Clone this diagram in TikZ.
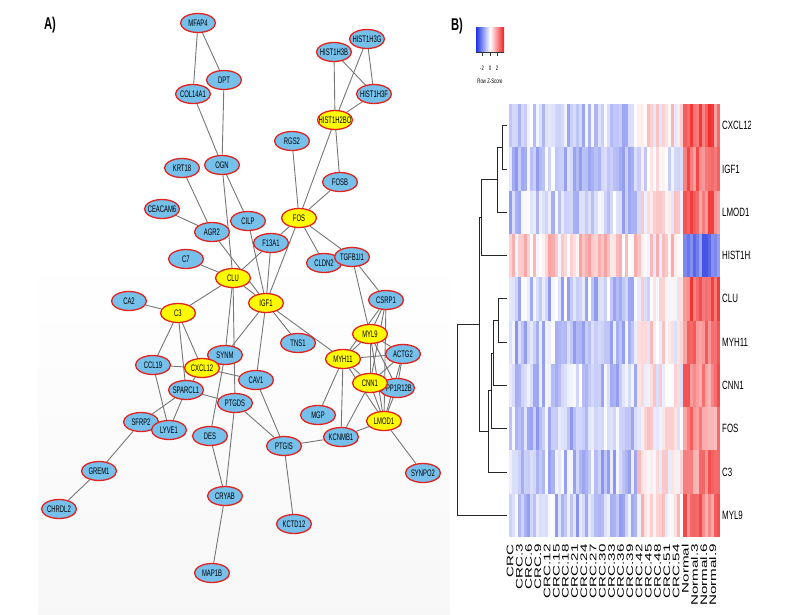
\documentclass[tikz,border=0pt]{standalone}
\usepackage{fontspec}
\setmainfont{Liberation Sans}
\newfontfamily\genefont[FakeStretch=0.62]{Liberation Sans}
\newfontfamily\rowfont[FakeStretch=0.66]{Liberation Sans}
\newfontfamily\colfont[FakeStretch=1.6]{Liberation Sans}
\usetikzlibrary{shapes.geometric,backgrounds}
\definecolor{nodeblue}{RGB}{118,192,236}
\definecolor{nodered}{RGB}{226,34,30}
\definecolor{hubyellow}{RGB}{255,252,0}
\definecolor{linkgray}{RGB}{118,118,118}
\definecolor{hblue}{RGB}{30,50,225}
\definecolor{hred}{RGB}{240,30,30}
\tikzset{
  gene/.style={ellipse, draw=nodered, fill=nodeblue, line width=1.3pt,
    minimum width=35pt, minimum height=19pt, inner sep=0pt,
    font=\genefont\fontsize{9.5}{10}\selectfont,
    execute at begin node={\hbox to 0pt\bgroup\hss},
    execute at end node={\hss\egroup}},
  hub/.style={gene, fill=hubyellow},
  link/.style={draw=linkgray, line width=0.9pt},
  dendro/.style={draw=black!85, line width=1pt},
  rowlabel/.style={anchor=west, inner sep=0pt, font=\rowfont\fontsize{12}{13}\selectfont},
  collabel/.style={rotate=90, anchor=east, inner sep=0pt, font=\colfont\fontsize{9.5}{10}\selectfont},
  keytext/.style={inner sep=0pt, font=\rowfont\fontsize{6.5}{7}\selectfont},
  panel/.style={inner sep=0pt, font=\rowfont\bfseries\fontsize{17}{18}\selectfont}
}
\begin{document}
\begin{tikzpicture}[x=1pt,y=-1pt]
\useasboundingbox (0,0) rectangle (788,614);

\node[panel] (A) at (50,25) {A)};
\node[panel] (B) at (457,26) {B)};

% network
\node[gene] (MFAP4) at (198,23) {MFAP4};
\node[gene] (DPT) at (224,80) {DPT};
\node[gene] (COL14A1) at (193,94) {COL14A1};
\node[gene] (HIST1H3G) at (367,39) {HIST1H3G};
\node[gene] (HIST1H3B) at (334,52) {HIST1H3B};
\node[gene] (HIST1H3F) at (374,94) {HIST1H3F};
\node[hub] (HIST1H2BO) at (335,120) {HIST1H2BO};
\node[gene] (RGS2) at (292,141) {RGS2};
\node[gene] (OGN) at (222,165) {OGN};
\node[gene] (KRT18) at (182,168) {KRT18};
\node[gene] (FOSB) at (340,182) {FOSB};
\node[gene] (CEACAM6) at (162,209) {CEACAM6};
\node[hub] (FOS) at (299,218) {FOS};
\node[gene] (CILP) at (248,221) {CILP};
\node[gene] (AGR2) at (212,232) {AGR2};
\node[gene] (F13A1) at (271,243) {F13A1};
\node[gene] (C7) at (186,259) {C7};
\node[gene] (CLDN2) at (324,263) {CLDN2};
\node[gene] (TGFB1I1) at (352,257) {TGFB1I1};
\node[hub] (CLU) at (233,278) {CLU};
\node[gene] (CA2) at (129,301) {CA2};
\node[hub] (IGF1) at (266,303) {IGF1};
\node[hub] (C3) at (178,313) {C3};
\node[gene] (CSRP1) at (386,300) {CSRP1};
\node[gene] (TNS1) at (298,343) {TNS1};
\node[hub] (MYL9) at (370,334) {MYL9};
\node[gene] (SYNM) at (225,355) {SYNM};
\node[gene] (ACTG2) at (403,354) {ACTG2};
\node[hub] (MYH11) at (343,359) {MYH11};
\node[gene] (CCL19) at (153,365) {CCL19};
\node[gene] (SPARCL1) at (186,390) {SPARCL1};
\node[hub] (CXCL12) at (202,368) {CXCL12};
\node[gene] (CAV1) at (256,380) {CAV1};
\node[gene] (PPP1R12B) at (397,388) {PPP1R12B};
\node[hub] (CNN1) at (370,383) {CNN1};
\node[gene] (PTGDS) at (235,403) {PTGDS};
\node[gene] (MGP) at (318,415) {MGP};
\node[gene] (SFRP2) at (141,422) {SFRP2};
\node[gene] (LYVE1) at (169,430) {LYVE1};
\node[hub] (LMOD1) at (384,421) {LMOD1};
\node[gene] (DES) at (210,436) {DES};
\node[gene] (KCNMB1) at (341,437) {KCNMB1};
\node[gene] (PTGIS) at (284,446) {PTGIS};
\node[gene] (GREM1) at (99,471) {GREM1};
\node[gene] (SYNPO2) at (423,473) {SYNPO2};
\node[gene] (CRYAB) at (225,496) {CRYAB};
\node[gene] (CHRDL2) at (59,509) {CHRDL2};
\node[gene] (KCTD12) at (294,524) {KCTD12};
\node[gene] (MAP1B) at (212,573) {MAP1B};

\begin{scope}[on background layer]
\shade[top color=white, bottom color=black!3] (38,250) rectangle (450,614);
\foreach \a/\b in {MFAP4/COL14A1, MFAP4/DPT, DPT/OGN, COL14A1/OGN,
  HIST1H3B/HIST1H2BO, HIST1H3B/HIST1H3F, HIST1H3G/HIST1H3F, HIST1H3G/HIST1H2BO,
  HIST1H3F/HIST1H2BO, HIST1H2BO/FOSB, HIST1H2BO/FOS, RGS2/FOS, FOSB/FOS,
  KRT18/AGR2, OGN/CILP, OGN/CLU, CEACAM6/AGR2, AGR2/IGF1, CILP/IGF1,
  F13A1/CLU, F13A1/IGF1, FOS/F13A1, FOS/IGF1, FOS/CLDN2, FOS/TGFB1I1,
  C7/CLU, CLU/IGF1, CLU/C3, CLU/SYNM, CLU/PTGDS,
  IGF1/SYNM, IGF1/CAV1, IGF1/TNS1, IGF1/MYH11,
  C3/CA2, C3/CCL19, C3/CXCL12, C3/SPARCL1,
  CCL19/CXCL12, CCL19/LYVE1, CXCL12/SYNM, CXCL12/CAV1, CXCL12/SPARCL1,
  SPARCL1/PTGDS, SPARCL1/SFRP2, SPARCL1/LYVE1, SFRP2/LYVE1, SFRP2/GREM1, GREM1/CHRDL2,
  SYNM/DES, PTGDS/CRYAB, DES/CRYAB, CRYAB/MAP1B, PTGDS/PTGIS, CAV1/PTGIS,
  PTGIS/KCNMB1, PTGIS/KCTD12, KCNMB1/LMOD1, KCNMB1/MYH11, KCNMB1/CNN1,
  MYH11/MGP, LMOD1/SYNPO2, TGFB1I1/CLDN2, TGFB1I1/CSRP1, TGFB1I1/MYL9,
  CSRP1/MYL9, CSRP1/MYH11, CSRP1/CNN1, CSRP1/LMOD1,
  MYL9/MYH11, MYL9/CNN1, MYL9/ACTG2, MYL9/LMOD1, MYL9/PPP1R12B,
  MYH11/ACTG2, MYH11/CNN1, MYH11/LMOD1, CNN1/ACTG2, CNN1/LMOD1,
  CNN1/PPP1R12B, ACTG2/PPP1R12B, ACTG2/LMOD1, PPP1R12B/LMOD1}
  \draw[link] (\a) -- (\b);
\end{scope}

% heatmap
\pgfmathsetseed{7}
\foreach \r/\cb/\mb/\nb in {1/-0.3/0.1/0.8, 2/-0.3/-0.05/0.8, 3/-0.3/0.05/0.75,
  4/0.22/0.15/-0.8, 5/-0.3/0.0/0.8, 6/-0.32/0.1/0.7, 7/-0.28/0.05/0.65,
  8/-0.32/0.1/0.6, 9/-0.32/0.1/0.65, 10/-0.32/0.15/0.7}{
  \foreach \c in {1,...,69}{
    \pgfmathsetmacro\b{\c<43 ? \cb : (\c<58 ? \mb : \nb)}
    \pgfmathsetmacro\v{\b+0.3*rand}
    \pgfmathtruncatemacro\p{min(100,abs(\v)*85)}
    \ifdim\v pt<0pt\def\hc{hblue}\else\def\hc{hred}\fi
    \fill[\hc!\p!white] ({508.5+3.07*(\c-1)},{104+43.3*(\r-1)}) rectangle ++(3.15,43.4);
  }
}

\draw[dendro] (506.7,125.7) -| (502,169) -- (506.7,169);
\draw[dendro] (502,147.3) -- (497,147.3) |- (506.7,212.3);
\draw[dendro] (497,179.8) -- (481.5,179.8) |- (506.7,255.6);
\draw[dendro] (506.7,298.9) -| (498,342.2) -- (506.7,342.2);
\draw[dendro] (498,320.5) -- (493.5,320.5) |- (506.7,385.5);
\draw[dendro] (493.5,353) -- (491.5,353) |- (506.7,428.8);
\draw[dendro] (491.5,390.9) -- (488,390.9) |- (506.7,472.1);
\draw[dendro] (481.5,217.7) -- (479.5,217.7) |- (488,431.5);
\draw[dendro] (479.5,324.6) -- (457,324.6) |- (506.7,515.4);

\begin{scope}
\clip (700,90) rectangle (750,545);
\foreach \r/\g in {1/CXCL12, 2/IGF1, 3/LMOD1, 4/HIST1H2BO, 5/CLU,
  6/MYH11, 7/CNN1, 8/FOS, 9/C3, 10/MYL9}
  \node[rowlabel] (row\r) at (722,{104+43.3*(\r-0.5)}) {\g};
\end{scope}

\begin{scope}
\clip (500,540) rectangle (730,603);
\foreach \k/\t in {0/CRC, 1/CRC.3, 2/CRC.6, 3/CRC.9, 4/CRC.12, 5/CRC.15,
  6/CRC.18, 7/CRC.21, 8/CRC.24, 9/CRC.27, 10/CRC.30, 11/CRC.33, 12/CRC.36,
  13/CRC.39, 14/CRC.42, 15/CRC.45, 16/CRC.48, 17/CRC.51, 18/CRC.54,
  19/Normal, 20/Normal.3, 21/Normal.6, 22/Normal.9}
  \node[collabel] (col\k) at ({510.2+9.21*\k},544) {\t};
\end{scope}

% colour key
\shade[left color=hblue, right color=hred, middle color=white] (476,27) rectangle (504,52);
\draw[black!80, line width=0.8pt] (476,52) -- (504,52);
\foreach \x/\t in {482/-2, 490/0, 497/2}{
  \draw[black!80, line width=0.6pt] (\x,52) -- (\x,56);
  \node[keytext] (key\t) at (\x,68) {\t};
}
\node[keytext] (keytitle) at (490,81) {Row Z-Score};
\end{tikzpicture}
\end{document}
